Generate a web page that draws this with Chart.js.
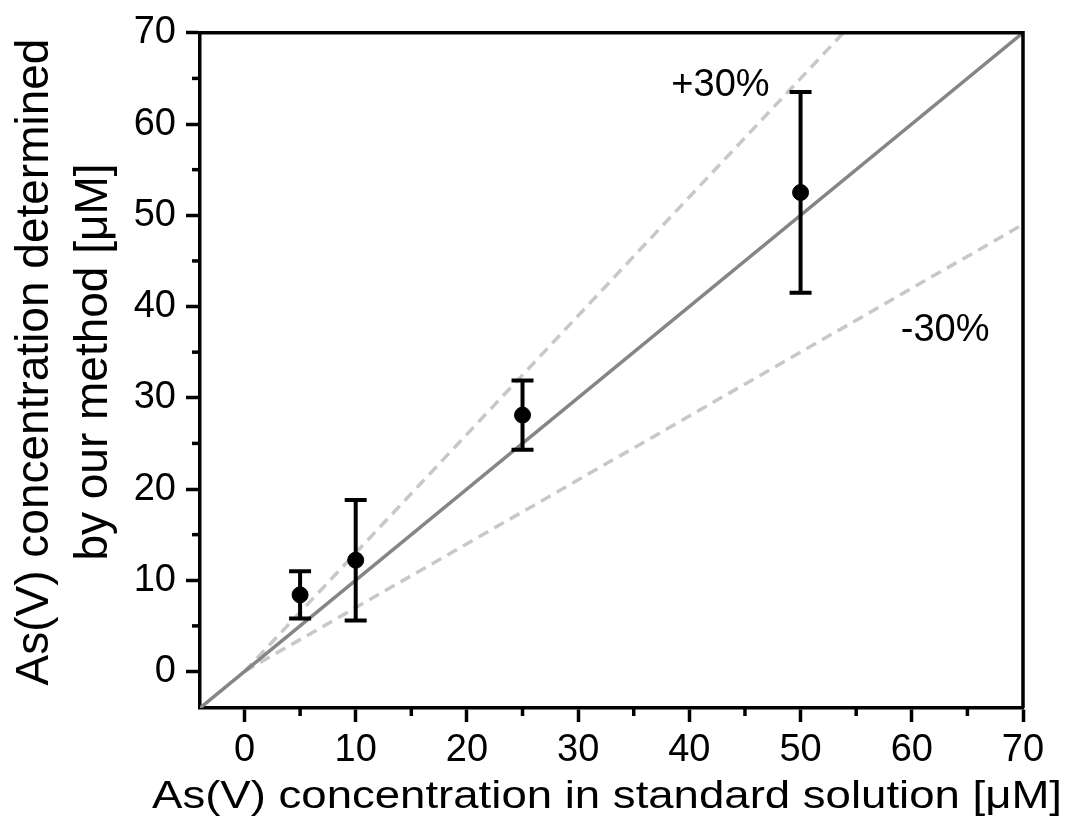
<!DOCTYPE html>
<html>
<head>
<meta charset="utf-8">
<script src="https://cdn.jsdelivr.net/npm/chart.js@4/dist/chart.umd.min.js"></script>
<style>
  body { margin: 0; background: #fff; }
  #wrap { width: 1077px; height: 821px; }
</style>
</head>
<body>
<div id="wrap"><canvas id="chart" width="1077" height="821"></canvas></div>
<script>
// measured points (standard vs determined), with error bar ends
const standard = [5, 10, 25, 50];
const determined = [8.4, 12.2, 28.1, 52.5];
const errHigh = [11.0, 18.8, 31.9, 63.5];
const errLow = [5.8, 5.6, 24.3, 41.5];

const majorTicks = [0, 10, 20, 30, 40, 50, 60, 70];
const minorTicks = [5, 15, 25, 35, 45, 55, 65];

// reference lines: 1:1, +30%, -30%
const identityLine = [{x: -4, y: -4}, {x: 70, y: 70}];
const plus30 = [{x: 0, y: 0}, {x: 70 / 1.3, y: 70}];
const minus30 = [{x: 0, y: 0}, {x: 70, y: 49}];

const xTitle = 'As(V) concentration in standard solution [μM]';
const yTitle = ['As(V) concentration determined', 'by our method [μM]'];

const fontFamily = '"Liberation Sans", Arial, sans-serif';

// error bars, minor ticks, frame, axis titles and the ±30% labels
const extras = {
  id: 'extras',
  afterDatasetsDraw(chart) {
    const c = chart.ctx;
    const xs = chart.scales.x, ys = chart.scales.y;
    const area = chart.chartArea;
    c.save();
    c.strokeStyle = '#000';
    c.lineWidth = 4;
    for (let i = 0; i < standard.length; i++) {
      const px = xs.getPixelForValue(standard[i]);
      const top = ys.getPixelForValue(errHigh[i]);
      const bot = ys.getPixelForValue(errLow[i]);
      c.beginPath();
      c.moveTo(px, top); c.lineTo(px, bot);
      c.moveTo(px - 11, top); c.lineTo(px + 11, top);
      c.moveTo(px - 11, bot); c.lineTo(px + 11, bot);
      c.stroke();
    }
    // frame top and right
    c.lineWidth = 3.5;
    c.beginPath();
    c.moveTo(area.left, area.top); c.lineTo(area.right, area.top); c.lineTo(area.right, area.bottom);
    c.stroke();
    // minor ticks
    minorTicks.forEach(v => {
      const px = xs.getPixelForValue(v);
      c.beginPath(); c.moveTo(px, area.bottom); c.lineTo(px, area.bottom + 8); c.stroke();
      const py = ys.getPixelForValue(v);
      c.beginPath(); c.moveTo(area.left, py); c.lineTo(area.left - 8, py); c.stroke();
    });
    c.fillStyle = '#000';
    c.font = '38px ' + fontFamily;
    c.textAlign = 'center';
    c.textBaseline = 'middle';
    c.fillText('+30%', xs.getPixelForValue(42.8), ys.getPixelForValue(64.2));
    c.fillText('-30%', xs.getPixelForValue(63.0), ys.getPixelForValue(37.4));

    // x title, a little wider than the plain font
    c.font = '38px ' + fontFamily;
    c.textBaseline = 'alphabetic';
    const w = c.measureText(xTitle).width;
    c.save();
    c.translate(607, 808);
    c.scale(910 / w, 1);
    c.fillText(xTitle, 0, 0);
    c.restore();

    // y title, two lines rotated
    c.font = '46px ' + fontFamily;
    c.save();
    c.translate(48, 362);
    c.rotate(-Math.PI / 2);
    c.fillText(yTitle[0], 0, 0);
    c.fillText(yTitle[1], 0, 59);
    c.restore();
    c.restore();
  }
};

const axisCommon = {
  type: 'linear',
  min: -4,
  max: 70,
  afterBuildTicks: scale => { scale.ticks = majorTicks.map(v => ({value: v})); },
  grid: {
    drawOnChartArea: false,
    drawTicks: true,
    tickLength: 14,
    tickWidth: 3.5,
    tickColor: '#000'
  },
  border: { display: true, color: '#000', width: 3.5 },
  ticks: {
    color: '#000',
    font: { family: fontFamily, size: 38 },
    padding: 10,
    maxRotation: 0
  }
};

new Chart(document.getElementById('chart'), {
  type: 'scatter',
  data: {
    datasets: [
      {
        data: identityLine, showLine: true, borderColor: '#858585', borderWidth: 3.5,
        pointRadius: 0, order: 3
      },
      {
        data: plus30, showLine: true, borderColor: '#c8c8c8', borderWidth: 3.5,
        borderDash: [11, 7], pointRadius: 0, order: 3
      },
      {
        data: minus30, showLine: true, borderColor: '#c8c8c8', borderWidth: 3.5,
        borderDash: [11, 7], pointRadius: 0, order: 3
      },
      {
        data: standard.map((x, i) => ({x: x, y: determined[i]})),
        backgroundColor: '#000', borderColor: '#000', pointRadius: 8, order: 1
      }
    ]
  },
  options: {
    responsive: false,
    animation: false,
    layout: { padding: { top: 32, right: 54, left: 0, bottom: 0 } },
    plugins: { legend: { display: false }, tooltip: { enabled: false } },
    scales: {
      x: Object.assign({}, axisCommon, {
        afterFit: scale => { scale.height = 113; },
        ticks: Object.assign({}, axisCommon.ticks, { padding: 6 })
      }),
      y: Object.assign({}, axisCommon, {
        afterFit: scale => { scale.width = 200; }
      })
    }
  },
  plugins: [extras]
});
</script>
</body>
</html>
